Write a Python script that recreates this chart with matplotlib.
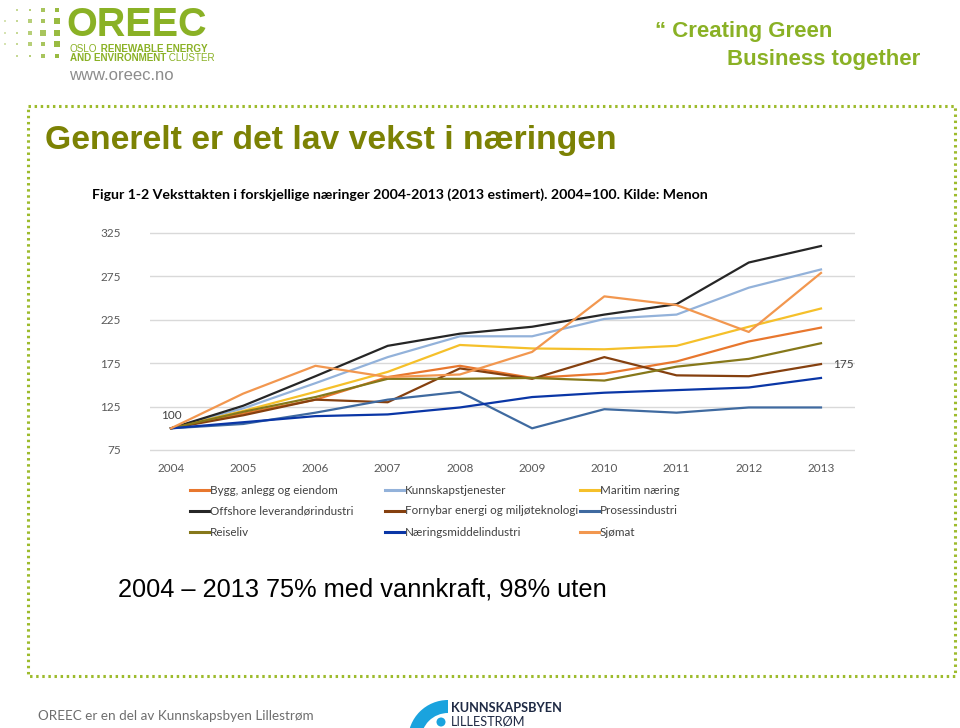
import matplotlib
matplotlib.use('Agg')

import matplotlib.pyplot as plt
from matplotlib.patches import Rectangle, Wedge, Circle
from matplotlib.lines import Line2D

# data (2004 = 100)
years = [2004, 2005, 2006, 2007, 2008, 2009, 2010, 2011, 2012, 2013]
names = ['Bygg, anlegg og eiendom', 'Kunnskapstjenester', 'Maritim næring',
         'Offshore leverandørindustri', 'Fornybar energi og miljøteknologi', 'Prosessindustri',
         'Reiseliv', 'Næringsmiddelindustri', 'Sjømat']
bygg = [100, 117, 133, 159, 172, 158, 163, 177, 200, 216]
kunnskap = [100, 123, 152, 182, 206, 206, 226, 231, 262, 283]
maritim = [100, 120, 142, 165, 196, 192, 191, 195, 217, 238]
offshore = [100, 126, 160, 195, 209, 217, 231, 243, 291, 310]
fornybar = [100, 115, 133, 130, 169, 157, 182, 161, 160, 174]
prosess = [100, 105, 118, 133, 142, 100, 122, 118, 124, 124]
reiseliv = [100, 119, 136, 157, 157, 158, 155, 171, 180, 198]
naering = [100, 107, 114, 116, 124, 136, 141, 144, 147, 158]
sjomat = [100, 140, 172, 159, 162, 188, 252, 242, 211, 279]
series = [bygg, kunnskap, maritim, offshore, fornybar, prosess, reiseliv, naering, sjomat]
colors = ['#E8772E', '#93B2DA', '#F5C02A', '#262626', '#85400F', '#3F6AA0',
          '#86781A', '#0A36A6', '#F2974F']
yticks = [75, 125, 175, 225, 275, 325]

W, H = 960, 728
green = '#8AB125'
olive = '#7C8204'

fig = plt.figure(figsize=(W / 100, H / 100), dpi=100)
bg = fig.add_axes([0, 0, 1, 1])
bg.set_xlim(0, W)
bg.set_ylim(H, 0)
bg.axis('off')

# OREEC logo squares
for r, yy in enumerate([10, 21, 33, 44, 56]):
    for c, xx in enumerate([5, 17, 30, 43, 57]):
        s = (1.0 + c * 1.1) * (1.25 - abs(r - 2) * 0.18)
        bg.add_patch(Rectangle((xx - s / 2, yy - s / 2), s, s, color=green, alpha=0.35 + 0.13 * c, lw=0))
bg.text(66, 36, 'OREEC', family='Liberation Sans', weight='bold',
        fontsize=28.5, color=green, va='baseline', ha='left')
t1 = bg.text(70, 48.5, 'OSLO', fontsize=7.1, color=green, va='center', family='Liberation Sans')
bg.annotate(' RENEWABLE ENERGY', xy=(1, 0), xycoords=t1, va='bottom', fontsize=7.1, color=green,
            weight='bold', family='Liberation Sans')
t2 = bg.text(70, 58, 'AND ENVIRONMENT', fontsize=7.1, color=green, va='center', weight='bold',
             family='Liberation Sans')
bg.annotate(' CLUSTER', xy=(1, 0), xycoords=t2, va='bottom', fontsize=7.1, color=green,
            family='Liberation Sans')
bg.text(69, 75, 'www.oreec.no', fontsize=12, color='#8C8C8C', va='center', family='Liberation Sans')

bg.text(655, 31, '\u201c Creating Green', fontsize=16, color=green, weight='bold', va='center',
        family='Liberation Sans')
bg.text(727, 59, 'Business together', fontsize=16, color=green, weight='bold', va='center',
        family='Liberation Sans')

# dotted frame
bg.add_patch(Rectangle((28, 106), 927, 570, fill=False, edgecolor='#9DBB2C', lw=2.2,
                       linestyle=(0, (0.8, 1.2))))

bg.text(45, 141, 'Generelt er det lav vekst i næringen', fontsize=24.3, weight='bold', color=olive,
        va='center', family='Liberation Sans')
bg.text(92, 195, 'Figur 1-2 Veksttakten i forskjellige næringer 2004-2013 (2013 estimert). 2004=100. Kilde: Menon',
        fontsize=10.2, weight='bold', color='black', va='center', family='Lato')

# manual legend, 3 columns
for i, name in enumerate(names):
    x0 = [190, 385, 580][i % 3]
    y0 = [490, 511, 532][i // 3]
    bg.add_line(Line2D([x0, x0 + 19], [y0, y0], color=colors[i], lw=2.2))
    bg.text(x0 + 20, y0, name, fontsize=8.4, color='#404040', va='center', family='Lato')

bg.text(118, 590, '2004 \u2013 2013 75% med vannkraft, 98% uten', fontsize=18.3, color='black',
        va='center', family='Liberation Sans')

bg.text(38, 716, 'OREEC er en del av Kunnskapsbyen Lillestrøm', fontsize=9.7, color='#6E6E6E',
        va='center', family='Lato')
# Kunnskapsbyen logo
bg.add_patch(Wedge((448, 740), 40, 180, 270, width=13, color='#1AA3DE', lw=0))
bg.add_patch(Circle((441, 722), 4.5, color='#1AA3DE', lw=0))
bg.text(451, 708, 'KUNNSKAPSBYEN', fontsize=9.2, weight='bold', color='#1F2A44', va='center', family='Lato')
bg.text(451, 722, 'LILLESTRØM', fontsize=9.2, color='#1F2A44', va='center', family='Lato')

# the chart itself
y_top, y_bot = 233 - 5 * 0.868, 450 + 5 * 0.868
ax = fig.add_axes([150 / W, 1 - y_bot / H, (855 - 150) / W, (y_bot - y_top) / H])
ax.patch.set_alpha(0)
for s, c in zip(series, colors):
    ax.plot(years, s, color=c, lw=1.6)
ax.set_xlim(2004 - 21 / 72.2, 2013 + 34 / 72.2)
ax.set_ylim(70, 330)
ax.set_yticks(yticks)
ax.set_xticks(years)
ax.grid(axis='y', color='#D9D9D9', lw=1)
ax.set_axisbelow(True)
for sp in ax.spines.values():
    sp.set_visible(False)
ax.tick_params(length=0, labelcolor='#595959', labelsize=8.5)
ax.tick_params(axis='y', pad=21)
ax.tick_params(axis='x', pad=6)
for lab in ax.get_xticklabels() + ax.get_yticklabels():
    lab.set_family('Lato')
ax.annotate('100', (years[0], naering[0]), xytext=(0, 7), textcoords='offset points',
            fontsize=8.5, color='#404040', ha='center', family='Lato')
ax.annotate('175', (years[-1], fornybar[-1]), xytext=(16, 0), textcoords='offset points',
            fontsize=8.5, color='#404040', ha='center', va='center', family='Lato')

fig.savefig('out.png', dpi=100)
